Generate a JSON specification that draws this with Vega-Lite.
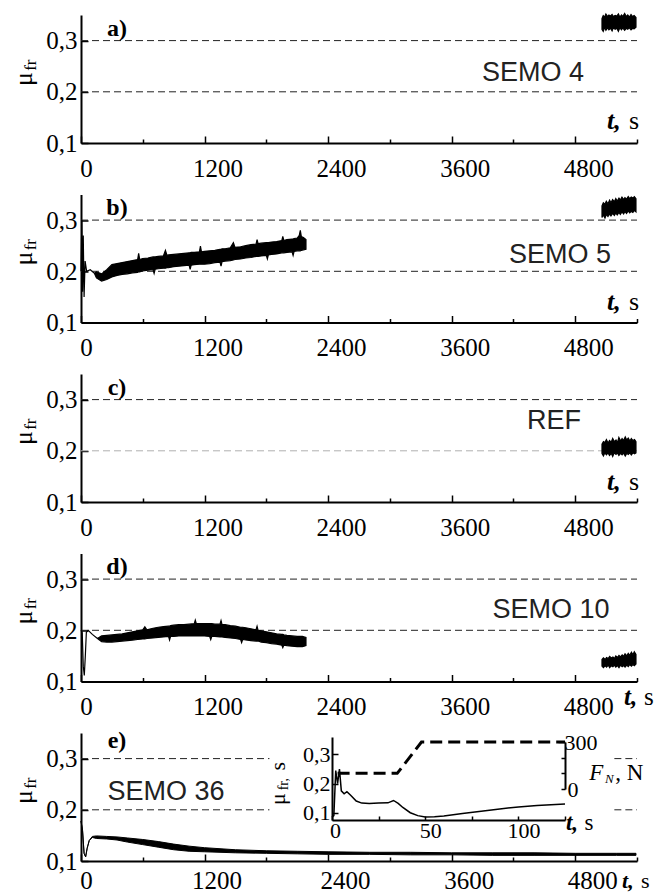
{
"$schema":"https://vega.github.io/schema/vega-lite/v6.json",
"padding":{"left":10,"top":11,"right":0,"bottom":0},
"background":"white",
"bounds":"flush",
"spacing":51.5,
"config":{"view":{"stroke":null},"axis":{"grid":false,"domainColor":"black","domainWidth":2,"tickColor":"black","tickWidth":1.5,"labelColor":"black","labelFont":"Liberation Serif","labelFontSize":25,"title":null,"labelOverlap":false,"labelFlush":false}},
"datasets":{
"curves":[
{"p":"a","seg":2,"t":5060,"lo":0.322,"hi":0.343},{"p":"a","seg":2,"t":5072,"lo":0.318,"hi":0.349},{"p":"a","seg":2,"t":5086,"lo":0.326,"hi":0.346},{"p":"a","seg":2,"t":5098,"lo":0.32,"hi":0.352},{"p":"a","seg":2,"t":5115,"lo":0.325,"hi":0.347},{"p":"a","seg":2,"t":5127,"lo":0.321,"hi":0.35},{"p":"a","seg":2,"t":5143,"lo":0.324,"hi":0.348},{"p":"a","seg":2,"t":5158,"lo":0.319,"hi":0.351},{"p":"a","seg":2,"t":5170,"lo":0.325,"hi":0.347},{"p":"a","seg":2,"t":5188,"lo":0.322,"hi":0.349},{"p":"a","seg":2,"t":5204,"lo":0.324,"hi":0.348},{"p":"a","seg":2,"t":5219,"lo":0.318,"hi":0.352},{"p":"a","seg":2,"t":5233,"lo":0.325,"hi":0.346},{"p":"a","seg":2,"t":5250,"lo":0.321,"hi":0.35},{"p":"a","seg":2,"t":5262,"lo":0.325,"hi":0.347},{"p":"a","seg":2,"t":5280,"lo":0.32,"hi":0.353},{"p":"a","seg":2,"t":5296,"lo":0.324,"hi":0.347},{"p":"a","seg":2,"t":5310,"lo":0.322,"hi":0.35},{"p":"a","seg":2,"t":5326,"lo":0.325,"hi":0.346},{"p":"a","seg":2,"t":5342,"lo":0.321,"hi":0.351},{"p":"a","seg":2,"t":5357,"lo":0.324,"hi":0.347},{"p":"a","seg":2,"t":5372,"lo":0.323,"hi":0.349},{"p":"a","seg":2,"t":5390,"lo":0.326,"hi":0.345},
{"p":"b","seg":1,"t":0,"lo":0.2,"hi":0.2},{"p":"b","seg":1,"t":8,"lo":0.3,"hi":0.3},{"p":"b","seg":1,"t":15,"lo":0.16,"hi":0.16},{"p":"b","seg":1,"t":22,"lo":0.27,"hi":0.27},{"p":"b","seg":1,"t":30,"lo":0.15,"hi":0.15},{"p":"b","seg":1,"t":40,"lo":0.22,"hi":0.22},{"p":"b","seg":1,"t":55,"lo":0.2,"hi":0.2},{"p":"b","seg":1,"t":90,"lo":0.203,"hi":0.203},{"p":"b","seg":1,"t":130,"lo":0.196,"hi":0.196},
{"p":"b","seg":1,"t":150,"lo":0.187,"hi":0.199},{"p":"b","seg":1,"t":200,"lo":0.181,"hi":0.195},{"p":"b","seg":1,"t":250,"lo":0.184,"hi":0.203},{"p":"b","seg":1,"t":300,"lo":0.189,"hi":0.213},{"p":"b","seg":1,"t":350,"lo":0.192,"hi":0.215},{"p":"b","seg":1,"t":400,"lo":0.194,"hi":0.217},{"p":"b","seg":1,"t":450,"lo":0.195,"hi":0.219},{"p":"b","seg":1,"t":500,"lo":0.197,"hi":0.221},{"p":"b","seg":1,"t":550,"lo":0.198,"hi":0.223},{"p":"b","seg":1,"t":560,"lo":0.199,"hi":0.235},{"p":"b","seg":1,"t":570,"lo":0.199,"hi":0.223},{"p":"b","seg":1,"t":600,"lo":0.201,"hi":0.225},{"p":"b","seg":1,"t":650,"lo":0.202,"hi":0.226},{"p":"b","seg":1,"t":700,"lo":0.203,"hi":0.228},{"p":"b","seg":1,"t":710,"lo":0.196,"hi":0.228},{"p":"b","seg":1,"t":720,"lo":0.204,"hi":0.228},{"p":"b","seg":1,"t":750,"lo":0.205,"hi":0.229},{"p":"b","seg":1,"t":800,"lo":0.206,"hi":0.23},{"p":"b","seg":1,"t":820,"lo":0.206,"hi":0.241},{"p":"b","seg":1,"t":835,"lo":0.207,"hi":0.231},{"p":"b","seg":1,"t":850,"lo":0.207,"hi":0.232},{"p":"b","seg":1,"t":900,"lo":0.209,"hi":0.233},{"p":"b","seg":1,"t":950,"lo":0.21,"hi":0.234},{"p":"b","seg":1,"t":1000,"lo":0.211,"hi":0.235},{"p":"b","seg":1,"t":1050,"lo":0.212,"hi":0.236},{"p":"b","seg":1,"t":1060,"lo":0.204,"hi":0.236},{"p":"b","seg":1,"t":1070,"lo":0.212,"hi":0.237},{"p":"b","seg":1,"t":1100,"lo":0.213,"hi":0.237},{"p":"b","seg":1,"t":1150,"lo":0.214,"hi":0.238},{"p":"b","seg":1,"t":1160,"lo":0.214,"hi":0.249},{"p":"b","seg":1,"t":1170,"lo":0.214,"hi":0.238},{"p":"b","seg":1,"t":1200,"lo":0.214,"hi":0.239},{"p":"b","seg":1,"t":1250,"lo":0.215,"hi":0.24},{"p":"b","seg":1,"t":1300,"lo":0.217,"hi":0.241},{"p":"b","seg":1,"t":1350,"lo":0.218,"hi":0.243},{"p":"b","seg":1,"t":1360,"lo":0.21,"hi":0.243},{"p":"b","seg":1,"t":1370,"lo":0.219,"hi":0.244},{"p":"b","seg":1,"t":1400,"lo":0.22,"hi":0.244},{"p":"b","seg":1,"t":1450,"lo":0.221,"hi":0.246},{"p":"b","seg":1,"t":1480,"lo":0.222,"hi":0.256},{"p":"b","seg":1,"t":1495,"lo":0.223,"hi":0.247},{"p":"b","seg":1,"t":1550,"lo":0.224,"hi":0.248},{"p":"b","seg":1,"t":1600,"lo":0.226,"hi":0.25},{"p":"b","seg":1,"t":1650,"lo":0.227,"hi":0.252},{"p":"b","seg":1,"t":1700,"lo":0.229,"hi":0.253},{"p":"b","seg":1,"t":1710,"lo":0.229,"hi":0.262},{"p":"b","seg":1,"t":1720,"lo":0.229,"hi":0.254},{"p":"b","seg":1,"t":1750,"lo":0.23,"hi":0.255},{"p":"b","seg":1,"t":1800,"lo":0.231,"hi":0.256},{"p":"b","seg":1,"t":1810,"lo":0.224,"hi":0.256},{"p":"b","seg":1,"t":1820,"lo":0.232,"hi":0.256},{"p":"b","seg":1,"t":1850,"lo":0.233,"hi":0.257},{"p":"b","seg":1,"t":1900,"lo":0.234,"hi":0.258},{"p":"b","seg":1,"t":1950,"lo":0.236,"hi":0.26},{"p":"b","seg":1,"t":1960,"lo":0.236,"hi":0.268},{"p":"b","seg":1,"t":1970,"lo":0.236,"hi":0.26},{"p":"b","seg":1,"t":2000,"lo":0.237,"hi":0.262},{"p":"b","seg":1,"t":2050,"lo":0.238,"hi":0.263},{"p":"b","seg":1,"t":2060,"lo":0.231,"hi":0.263},{"p":"b","seg":1,"t":2070,"lo":0.239,"hi":0.264},{"p":"b","seg":1,"t":2100,"lo":0.24,"hi":0.265},{"p":"b","seg":1,"t":2120,"lo":0.24,"hi":0.27},{"p":"b","seg":1,"t":2130,"lo":0.24,"hi":0.28},{"p":"b","seg":1,"t":2140,"lo":0.241,"hi":0.268},{"p":"b","seg":1,"t":2160,"lo":0.242,"hi":0.266},{"p":"b","seg":1,"t":2185,"lo":0.243,"hi":0.262},
{"p":"b","seg":2,"t":5060,"lo":0.305,"hi":0.328},{"p":"b","seg":2,"t":5073,"lo":0.31,"hi":0.334},{"p":"b","seg":2,"t":5089,"lo":0.304,"hi":0.331},{"p":"b","seg":2,"t":5102,"lo":0.311,"hi":0.337},{"p":"b","seg":2,"t":5118,"lo":0.307,"hi":0.332},{"p":"b","seg":2,"t":5134,"lo":0.312,"hi":0.339},{"p":"b","seg":2,"t":5147,"lo":0.308,"hi":0.334},{"p":"b","seg":2,"t":5163,"lo":0.313,"hi":0.34},{"p":"b","seg":2,"t":5180,"lo":0.309,"hi":0.336},{"p":"b","seg":2,"t":5194,"lo":0.314,"hi":0.342},{"p":"b","seg":2,"t":5208,"lo":0.31,"hi":0.337},{"p":"b","seg":2,"t":5225,"lo":0.315,"hi":0.343},{"p":"b","seg":2,"t":5238,"lo":0.311,"hi":0.339},{"p":"b","seg":2,"t":5254,"lo":0.316,"hi":0.345},{"p":"b","seg":2,"t":5270,"lo":0.312,"hi":0.34},{"p":"b","seg":2,"t":5283,"lo":0.317,"hi":0.344},{"p":"b","seg":2,"t":5298,"lo":0.313,"hi":0.341},{"p":"b","seg":2,"t":5315,"lo":0.318,"hi":0.346},{"p":"b","seg":2,"t":5329,"lo":0.314,"hi":0.342},{"p":"b","seg":2,"t":5344,"lo":0.317,"hi":0.345},{"p":"b","seg":2,"t":5360,"lo":0.315,"hi":0.343},{"p":"b","seg":2,"t":5374,"lo":0.319,"hi":0.346},{"p":"b","seg":2,"t":5390,"lo":0.316,"hi":0.342},
{"p":"c","seg":2,"t":5060,"lo":0.195,"hi":0.213},{"p":"c","seg":2,"t":5074,"lo":0.19,"hi":0.218},{"p":"c","seg":2,"t":5088,"lo":0.196,"hi":0.216},{"p":"c","seg":2,"t":5103,"lo":0.192,"hi":0.222},{"p":"c","seg":2,"t":5119,"lo":0.196,"hi":0.215},{"p":"c","seg":2,"t":5133,"lo":0.191,"hi":0.22},{"p":"c","seg":2,"t":5150,"lo":0.195,"hi":0.217},{"p":"c","seg":2,"t":5164,"lo":0.189,"hi":0.224},{"p":"c","seg":2,"t":5179,"lo":0.196,"hi":0.218},{"p":"c","seg":2,"t":5196,"lo":0.193,"hi":0.221},{"p":"c","seg":2,"t":5210,"lo":0.196,"hi":0.216},{"p":"c","seg":2,"t":5224,"lo":0.191,"hi":0.226},{"p":"c","seg":2,"t":5241,"lo":0.195,"hi":0.219},{"p":"c","seg":2,"t":5255,"lo":0.192,"hi":0.224},{"p":"c","seg":2,"t":5269,"lo":0.196,"hi":0.22},{"p":"c","seg":2,"t":5286,"lo":0.19,"hi":0.227},{"p":"c","seg":2,"t":5300,"lo":0.195,"hi":0.221},{"p":"c","seg":2,"t":5315,"lo":0.193,"hi":0.225},{"p":"c","seg":2,"t":5331,"lo":0.196,"hi":0.219},{"p":"c","seg":2,"t":5345,"lo":0.192,"hi":0.224},{"p":"c","seg":2,"t":5360,"lo":0.196,"hi":0.22},{"p":"c","seg":2,"t":5376,"lo":0.194,"hi":0.222},{"p":"c","seg":2,"t":5390,"lo":0.196,"hi":0.218},
{"p":"d","seg":1,"t":0,"lo":0.2,"hi":0.2},{"p":"d","seg":1,"t":12,"lo":0.195,"hi":0.195},{"p":"d","seg":1,"t":22,"lo":0.13,"hi":0.13},{"p":"d","seg":1,"t":32,"lo":0.112,"hi":0.112},{"p":"d","seg":1,"t":42,"lo":0.15,"hi":0.15},{"p":"d","seg":1,"t":52,"lo":0.196,"hi":0.196},{"p":"d","seg":1,"t":70,"lo":0.2,"hi":0.2},{"p":"d","seg":1,"t":110,"lo":0.192,"hi":0.192},{"p":"d","seg":1,"t":160,"lo":0.184,"hi":0.184},
{"p":"d","seg":1,"t":200,"lo":0.178,"hi":0.189},{"p":"d","seg":1,"t":250,"lo":0.177,"hi":0.19},{"p":"d","seg":1,"t":300,"lo":0.177,"hi":0.191},{"p":"d","seg":1,"t":350,"lo":0.178,"hi":0.192},{"p":"d","seg":1,"t":400,"lo":0.179,"hi":0.193},{"p":"d","seg":1,"t":450,"lo":0.18,"hi":0.195},{"p":"d","seg":1,"t":500,"lo":0.181,"hi":0.197},{"p":"d","seg":1,"t":550,"lo":0.182,"hi":0.199},{"p":"d","seg":1,"t":600,"lo":0.183,"hi":0.201},{"p":"d","seg":1,"t":620,"lo":0.183,"hi":0.207},{"p":"d","seg":1,"t":640,"lo":0.184,"hi":0.201},{"p":"d","seg":1,"t":700,"lo":0.185,"hi":0.204},{"p":"d","seg":1,"t":750,"lo":0.186,"hi":0.206},{"p":"d","seg":1,"t":800,"lo":0.187,"hi":0.207},{"p":"d","seg":1,"t":850,"lo":0.188,"hi":0.208},{"p":"d","seg":1,"t":860,"lo":0.181,"hi":0.208},{"p":"d","seg":1,"t":870,"lo":0.188,"hi":0.209},{"p":"d","seg":1,"t":900,"lo":0.188,"hi":0.21},{"p":"d","seg":1,"t":950,"lo":0.189,"hi":0.211},{"p":"d","seg":1,"t":1000,"lo":0.189,"hi":0.211},{"p":"d","seg":1,"t":1050,"lo":0.189,"hi":0.212},{"p":"d","seg":1,"t":1100,"lo":0.189,"hi":0.213},{"p":"d","seg":1,"t":1110,"lo":0.189,"hi":0.22},{"p":"d","seg":1,"t":1120,"lo":0.189,"hi":0.213},{"p":"d","seg":1,"t":1150,"lo":0.189,"hi":0.213},{"p":"d","seg":1,"t":1200,"lo":0.189,"hi":0.213},{"p":"d","seg":1,"t":1250,"lo":0.188,"hi":0.213},{"p":"d","seg":1,"t":1260,"lo":0.182,"hi":0.213},{"p":"d","seg":1,"t":1270,"lo":0.188,"hi":0.213},{"p":"d","seg":1,"t":1300,"lo":0.188,"hi":0.212},{"p":"d","seg":1,"t":1350,"lo":0.187,"hi":0.212},{"p":"d","seg":1,"t":1360,"lo":0.187,"hi":0.219},{"p":"d","seg":1,"t":1370,"lo":0.187,"hi":0.211},{"p":"d","seg":1,"t":1400,"lo":0.186,"hi":0.211},{"p":"d","seg":1,"t":1450,"lo":0.185,"hi":0.209},{"p":"d","seg":1,"t":1500,"lo":0.184,"hi":0.208},{"p":"d","seg":1,"t":1550,"lo":0.182,"hi":0.206},{"p":"d","seg":1,"t":1560,"lo":0.176,"hi":0.206},{"p":"d","seg":1,"t":1570,"lo":0.182,"hi":0.206},{"p":"d","seg":1,"t":1600,"lo":0.181,"hi":0.205},{"p":"d","seg":1,"t":1650,"lo":0.18,"hi":0.203},{"p":"d","seg":1,"t":1700,"lo":0.179,"hi":0.201},{"p":"d","seg":1,"t":1710,"lo":0.179,"hi":0.208},{"p":"d","seg":1,"t":1720,"lo":0.179,"hi":0.2},{"p":"d","seg":1,"t":1750,"lo":0.177,"hi":0.199},{"p":"d","seg":1,"t":1800,"lo":0.176,"hi":0.197},{"p":"d","seg":1,"t":1850,"lo":0.174,"hi":0.195},{"p":"d","seg":1,"t":1900,"lo":0.173,"hi":0.193},{"p":"d","seg":1,"t":1950,"lo":0.171,"hi":0.192},{"p":"d","seg":1,"t":1960,"lo":0.166,"hi":0.192},{"p":"d","seg":1,"t":1970,"lo":0.171,"hi":0.191},{"p":"d","seg":1,"t":2000,"lo":0.17,"hi":0.19},{"p":"d","seg":1,"t":2050,"lo":0.169,"hi":0.189},{"p":"d","seg":1,"t":2100,"lo":0.168,"hi":0.188},{"p":"d","seg":1,"t":2150,"lo":0.168,"hi":0.188},{"p":"d","seg":1,"t":2185,"lo":0.17,"hi":0.186},
{"p":"d","seg":2,"t":5060,"lo":0.13,"hi":0.143},{"p":"d","seg":2,"t":5074,"lo":0.127,"hi":0.146},{"p":"d","seg":2,"t":5091,"lo":0.131,"hi":0.143},{"p":"d","seg":2,"t":5104,"lo":0.128,"hi":0.147},{"p":"d","seg":2,"t":5121,"lo":0.132,"hi":0.145},{"p":"d","seg":2,"t":5135,"lo":0.127,"hi":0.149},{"p":"d","seg":2,"t":5149,"lo":0.131,"hi":0.146},{"p":"d","seg":2,"t":5166,"lo":0.129,"hi":0.148},{"p":"d","seg":2,"t":5181,"lo":0.132,"hi":0.145},{"p":"d","seg":2,"t":5194,"lo":0.128,"hi":0.15},{"p":"d","seg":2,"t":5211,"lo":0.131,"hi":0.147},{"p":"d","seg":2,"t":5225,"lo":0.127,"hi":0.151},{"p":"d","seg":2,"t":5239,"lo":0.132,"hi":0.148},{"p":"d","seg":2,"t":5256,"lo":0.129,"hi":0.152},{"p":"d","seg":2,"t":5270,"lo":0.131,"hi":0.149},{"p":"d","seg":2,"t":5284,"lo":0.128,"hi":0.154},{"p":"d","seg":2,"t":5301,"lo":0.132,"hi":0.15},{"p":"d","seg":2,"t":5315,"lo":0.129,"hi":0.155},{"p":"d","seg":2,"t":5329,"lo":0.133,"hi":0.151},{"p":"d","seg":2,"t":5346,"lo":0.13,"hi":0.157},{"p":"d","seg":2,"t":5360,"lo":0.133,"hi":0.152},{"p":"d","seg":2,"t":5374,"lo":0.131,"hi":0.158},{"p":"d","seg":2,"t":5390,"lo":0.134,"hi":0.153},
{"p":"e","seg":1,"t":0,"lo":0.178,"hi":0.178},{"p":"e","seg":1,"t":15,"lo":0.16,"hi":0.16},{"p":"e","seg":1,"t":30,"lo":0.115,"hi":0.115},{"p":"e","seg":1,"t":45,"lo":0.108,"hi":0.108},{"p":"e","seg":1,"t":60,"lo":0.125,"hi":0.125},{"p":"e","seg":1,"t":80,"lo":0.14,"hi":0.14},{"p":"e","seg":1,"t":110,"lo":0.146,"hi":0.148},{"p":"e","seg":1,"t":150,"lo":0.144,"hi":0.149},{"p":"e","seg":1,"t":250,"lo":0.143,"hi":0.148},{"p":"e","seg":1,"t":350,"lo":0.141,"hi":0.147},{"p":"e","seg":1,"t":450,"lo":0.137,"hi":0.145},{"p":"e","seg":1,"t":600,"lo":0.132,"hi":0.142},{"p":"e","seg":1,"t":750,"lo":0.127,"hi":0.138},{"p":"e","seg":1,"t":900,"lo":0.122,"hi":0.133},{"p":"e","seg":1,"t":1050,"lo":0.119,"hi":0.129},{"p":"e","seg":1,"t":1200,"lo":0.118,"hi":0.126},{"p":"e","seg":1,"t":1500,"lo":0.116,"hi":0.122},{"p":"e","seg":1,"t":1800,"lo":0.115,"hi":0.12},{"p":"e","seg":1,"t":2100,"lo":0.114,"hi":0.119},{"p":"e","seg":1,"t":2400,"lo":0.113,"hi":0.118},{"p":"e","seg":1,"t":2800,"lo":0.113,"hi":0.117},{"p":"e","seg":1,"t":3200,"lo":0.112,"hi":0.117},{"p":"e","seg":1,"t":3600,"lo":0.112,"hi":0.116},{"p":"e","seg":1,"t":4000,"lo":0.111,"hi":0.116},{"p":"e","seg":1,"t":4400,"lo":0.111,"hi":0.116},{"p":"e","seg":1,"t":4800,"lo":0.111,"hi":0.115},{"p":"e","seg":1,"t":5200,"lo":0.111,"hi":0.115},{"p":"e","seg":1,"t":5390,"lo":0.111,"hi":0.115}
],
"refs":[
{"p":"a","t0":0,"t1":5400,"mu":0.2},{"p":"a","t0":0,"t1":5400,"mu":0.3},
{"p":"b","t0":0,"t1":5400,"mu":0.2},{"p":"b","t0":0,"t1":5400,"mu":0.3},
{"p":"c","t0":0,"t1":5400,"mu":0.2},{"p":"c","t0":0,"t1":5400,"mu":0.3},
{"p":"d","t0":0,"t1":5400,"mu":0.2},{"p":"d","t0":0,"t1":5400,"mu":0.3},
{"p":"e","t0":0,"t1":1830,"mu":0.2},{"p":"e","t0":0,"t1":1830,"mu":0.3},{"p":"e","t0":5180,"t1":5400,"mu":0.2},{"p":"e","t0":5180,"t1":5400,"mu":0.3}
],
"tags":[{"p":"a","t":350,"mu":0.323,"txt":"a)"},{"p":"b","t":350,"mu":0.323,"txt":"b)"},{"p":"c","t":350,"mu":0.323,"txt":"c)"},{"p":"d","t":350,"mu":0.323,"txt":"d)"},{"p":"e","t":350,"mu":0.335,"txt":"e)"}],
"names":[{"p":"a","t":4390,"mu":0.237,"txt":"SEMO 4"},{"p":"b","t":4652,"mu":0.231,"txt":"SEMO 5"},{"p":"c","t":4594,"mu":0.258,"txt":"REF"},{"p":"d","t":4565,"mu":0.239,"txt":"SEMO 10"},{"p":"e","t":826,"mu":0.235,"txt":"SEMO 36"}],
"tunit":[{"p":"a","tt":5109,"ts":5322,"mu":0.143},{"p":"b","tt":5109,"ts":5322,"mu":0.141},{"p":"c","tt":5109,"ts":5322,"mu":0.139},{"p":"d","tt":5274,"ts":5468,"mu":0.069},{"p":"e","tt":5255,"ts":5440,"mu":0.06}],
"ylab":[{"p":"a","tm":-554,"mm":0.225,"tf":-488,"mf":0.252},{"p":"b","tm":-554,"mm":0.225,"tf":-488,"mf":0.252},{"p":"c","tm":-554,"mm":0.225,"tf":-488,"mf":0.252},{"p":"d","tm":-554,"mm":0.225,"tf":-488,"mf":0.252},{"p":"e","tm":-554,"mm":0.225,"tf":-488,"mf":0.252}],
"inset":[{"t":0,"mu":0.085},{"t":1,"mu":0.09},{"t":2,"mu":0.245},{"t":3,"mu":0.2},{"t":4,"mu":0.25},{"t":5,"mu":0.175},{"t":6.5,"mu":0.165},{"t":8,"mu":0.172},{"t":10,"mu":0.16},{"t":13,"mu":0.14},{"t":16,"mu":0.133},{"t":20,"mu":0.132},{"t":25,"mu":0.133},{"t":30,"mu":0.134},{"t":33,"mu":0.142},{"t":35.5,"mu":0.132},{"t":38,"mu":0.118},{"t":42,"mu":0.1},{"t":46,"mu":0.09},{"t":50,"mu":0.085},{"t":55,"mu":0.086},{"t":60,"mu":0.089},{"t":70,"mu":0.097},{"t":80,"mu":0.105},{"t":90,"mu":0.113},{"t":100,"mu":0.12},{"t":110,"mu":0.125},{"t":125,"mu":0.13}],
"force":[{"t":3,"F":100},{"t":35,"F":100},{"t":48,"F":300},{"t":125,"F":300}]
},
"vconcat":[
{"width":556,"height":128,"layer":[
{"data":{"name":"refs"},"transform":[{"filter":"datum.p=='a'"}],"mark":{"type":"rule","strokeDash":[7,4],"strokeWidth":1,"color":"#222"},"encoding":{"x":{"field":"t0","type":"quantitative","scale":{"domain":[0,5400],"nice":false,"zero":false},"axis":{"orient":"bottom","values":[0,600,1200,1800,2400,3000,3600,4200,4800,5400],"labelExpr":"datum.value % 1200 == 0 ? format(datum.value,'d') : ''","tickSize":{"condition":{"test":"datum.value % 1200 == 0","value":-7},"value":-4},"labelPadding":20,"labelOffset":{"condition":{"test":"datum.value == 0","value":5},"value":13}}},"x2":{"field":"t1"},"y":{"field":"mu","type":"quantitative","scale":{"domain":[0.1,0.35],"nice":false,"zero":false},"axis":{"orient":"left","values":[0.1,0.15,0.2,0.25,0.3,0.35],"labelExpr":"round(datum.value*100) % 10 == 0 ? replace(format(datum.value,'.1f'),'.',',') : ''","tickSize":{"condition":{"test":"round(datum.value*100) % 10 == 0","value":-7},"value":-4},"labelPadding":11}}}},
{"data":{"name":"curves"},"transform":[{"filter":"datum.p=='a'"}],"mark":{"type":"area","color":"black","stroke":"black","strokeWidth":1.2},"encoding":{"x":{"field":"t","type":"quantitative"},"y":{"field":"lo","type":"quantitative","stack":null},"y2":{"field":"hi"},"detail":{"field":"seg"}}},
{"data":{"name":"tags"},"transform":[{"filter":"datum.p=='a'"}],"mark":{"type":"text","font":"Liberation Serif","fontWeight":"bold","fontSize":24,"align":"center","baseline":"middle","color":"black"},"encoding":{"x":{"field":"t","type":"quantitative"},"y":{"field":"mu","type":"quantitative"},"text":{"field":"txt"}}},
{"data":{"name":"names"},"transform":[{"filter":"datum.p=='a'"}],"mark":{"type":"text","font":"Liberation Sans","fontSize":27,"align":"center","baseline":"middle","color":"#222"},"encoding":{"x":{"field":"t","type":"quantitative"},"y":{"field":"mu","type":"quantitative"},"text":{"field":"txt"}}},
{"data":{"name":"tunit"},"transform":[{"filter":"datum.p=='a'"}],"mark":{"type":"text","font":"Liberation Serif","fontStyle":"italic","fontWeight":"bold","fontSize":26,"align":"left","baseline":"middle","color":"black"},"encoding":{"x":{"field":"tt","type":"quantitative"},"y":{"field":"mu","type":"quantitative"},"text":{"value":"t,"}}},
{"data":{"name":"tunit"},"transform":[{"filter":"datum.p=='a'"}],"mark":{"type":"text","font":"Liberation Serif","fontSize":26,"align":"left","baseline":"middle","color":"black"},"encoding":{"x":{"field":"ts","type":"quantitative"},"y":{"field":"mu","type":"quantitative"},"text":{"value":"s"}}},
{"data":{"name":"ylab"},"transform":[{"filter":"datum.p=='a'"}],"mark":{"type":"text","font":"Liberation Serif","fontSize":26,"angle":270,"align":"center","baseline":"middle","color":"black"},"encoding":{"x":{"field":"tm","type":"quantitative"},"y":{"field":"mm","type":"quantitative"},"text":{"value":"μ"}}},
{"data":{"name":"ylab"},"transform":[{"filter":"datum.p=='a'"}],"mark":{"type":"text","font":"Liberation Serif","fontSize":17,"angle":270,"align":"center","baseline":"middle","color":"black"},"encoding":{"x":{"field":"tf","type":"quantitative"},"y":{"field":"mf","type":"quantitative"},"text":{"value":"fr"}}}
]},
{"width":556,"height":128,"layer":[
{"data":{"name":"refs"},"transform":[{"filter":"datum.p=='b'"}],"mark":{"type":"rule","strokeDash":[7,4],"strokeWidth":1,"color":"#222"},"encoding":{"x":{"field":"t0","type":"quantitative","scale":{"domain":[0,5400],"nice":false,"zero":false},"axis":{"orient":"bottom","values":[0,600,1200,1800,2400,3000,3600,4200,4800,5400],"labelExpr":"datum.value % 1200 == 0 ? format(datum.value,'d') : ''","tickSize":{"condition":{"test":"datum.value % 1200 == 0","value":-7},"value":-4},"labelPadding":20,"labelOffset":{"condition":{"test":"datum.value == 0","value":5},"value":13}}},"x2":{"field":"t1"},"y":{"field":"mu","type":"quantitative","scale":{"domain":[0.1,0.35],"nice":false,"zero":false},"axis":{"orient":"left","values":[0.1,0.15,0.2,0.25,0.3,0.35],"labelExpr":"round(datum.value*100) % 10 == 0 ? replace(format(datum.value,'.1f'),'.',',') : ''","tickSize":{"condition":{"test":"round(datum.value*100) % 10 == 0","value":-7},"value":-4},"labelPadding":11}}}},
{"data":{"name":"curves"},"transform":[{"filter":"datum.p=='b'"}],"mark":{"type":"area","color":"black","stroke":"black","strokeWidth":1.2},"encoding":{"x":{"field":"t","type":"quantitative"},"y":{"field":"lo","type":"quantitative","stack":null},"y2":{"field":"hi"},"detail":{"field":"seg"}}},
{"data":{"name":"tags"},"transform":[{"filter":"datum.p=='b'"}],"mark":{"type":"text","font":"Liberation Serif","fontWeight":"bold","fontSize":24,"align":"center","baseline":"middle","color":"black"},"encoding":{"x":{"field":"t","type":"quantitative"},"y":{"field":"mu","type":"quantitative"},"text":{"field":"txt"}}},
{"data":{"name":"names"},"transform":[{"filter":"datum.p=='b'"}],"mark":{"type":"text","font":"Liberation Sans","fontSize":27,"align":"center","baseline":"middle","color":"#222"},"encoding":{"x":{"field":"t","type":"quantitative"},"y":{"field":"mu","type":"quantitative"},"text":{"field":"txt"}}},
{"data":{"name":"tunit"},"transform":[{"filter":"datum.p=='b'"}],"mark":{"type":"text","font":"Liberation Serif","fontStyle":"italic","fontWeight":"bold","fontSize":26,"align":"left","baseline":"middle","color":"black"},"encoding":{"x":{"field":"tt","type":"quantitative"},"y":{"field":"mu","type":"quantitative"},"text":{"value":"t,"}}},
{"data":{"name":"tunit"},"transform":[{"filter":"datum.p=='b'"}],"mark":{"type":"text","font":"Liberation Serif","fontSize":26,"align":"left","baseline":"middle","color":"black"},"encoding":{"x":{"field":"ts","type":"quantitative"},"y":{"field":"mu","type":"quantitative"},"text":{"value":"s"}}},
{"data":{"name":"ylab"},"transform":[{"filter":"datum.p=='b'"}],"mark":{"type":"text","font":"Liberation Serif","fontSize":26,"angle":270,"align":"center","baseline":"middle","color":"black"},"encoding":{"x":{"field":"tm","type":"quantitative"},"y":{"field":"mm","type":"quantitative"},"text":{"value":"μ"}}},
{"data":{"name":"ylab"},"transform":[{"filter":"datum.p=='b'"}],"mark":{"type":"text","font":"Liberation Serif","fontSize":17,"angle":270,"align":"center","baseline":"middle","color":"black"},"encoding":{"x":{"field":"tf","type":"quantitative"},"y":{"field":"mf","type":"quantitative"},"text":{"value":"fr"}}}
]},
{"width":556,"height":128,"layer":[
{"data":{"name":"refs"},"transform":[{"filter":"datum.p=='c' && datum.mu > 0.25"}],"mark":{"type":"rule","strokeDash":[7,4],"strokeWidth":1,"color":"#222"},"encoding":{"x":{"field":"t0","type":"quantitative","scale":{"domain":[0,5400],"nice":false,"zero":false},"axis":{"orient":"bottom","values":[0,600,1200,1800,2400,3000,3600,4200,4800,5400],"labelExpr":"datum.value % 1200 == 0 ? format(datum.value,'d') : ''","tickSize":{"condition":{"test":"datum.value % 1200 == 0","value":-7},"value":-4},"labelPadding":20,"labelOffset":{"condition":{"test":"datum.value == 0","value":5},"value":13}}},"x2":{"field":"t1"},"y":{"field":"mu","type":"quantitative","scale":{"domain":[0.1,0.35],"nice":false,"zero":false},"axis":{"orient":"left","values":[0.1,0.15,0.2,0.25,0.3,0.35],"labelExpr":"round(datum.value*100) % 10 == 0 ? replace(format(datum.value,'.1f'),'.',',') : ''","tickSize":{"condition":{"test":"round(datum.value*100) % 10 == 0","value":-7},"value":-4},"labelPadding":11}}}},
{"data":{"name":"refs"},"transform":[{"filter":"datum.p=='c' && datum.mu < 0.25"}],"mark":{"type":"rule","strokeDash":[7,4],"strokeWidth":1,"color":"#b0b0b0"},"encoding":{"x":{"field":"t0","type":"quantitative"},"x2":{"field":"t1"},"y":{"field":"mu","type":"quantitative"}}},
{"data":{"name":"curves"},"transform":[{"filter":"datum.p=='c'"}],"mark":{"type":"area","color":"black","stroke":"black","strokeWidth":1.2},"encoding":{"x":{"field":"t","type":"quantitative"},"y":{"field":"lo","type":"quantitative","stack":null},"y2":{"field":"hi"},"detail":{"field":"seg"}}},
{"data":{"name":"tags"},"transform":[{"filter":"datum.p=='c'"}],"mark":{"type":"text","font":"Liberation Serif","fontWeight":"bold","fontSize":24,"align":"center","baseline":"middle","color":"black"},"encoding":{"x":{"field":"t","type":"quantitative"},"y":{"field":"mu","type":"quantitative"},"text":{"field":"txt"}}},
{"data":{"name":"names"},"transform":[{"filter":"datum.p=='c'"}],"mark":{"type":"text","font":"Liberation Sans","fontSize":27,"align":"center","baseline":"middle","color":"#222"},"encoding":{"x":{"field":"t","type":"quantitative"},"y":{"field":"mu","type":"quantitative"},"text":{"field":"txt"}}},
{"data":{"name":"tunit"},"transform":[{"filter":"datum.p=='c'"}],"mark":{"type":"text","font":"Liberation Serif","fontStyle":"italic","fontWeight":"bold","fontSize":26,"align":"left","baseline":"middle","color":"black"},"encoding":{"x":{"field":"tt","type":"quantitative"},"y":{"field":"mu","type":"quantitative"},"text":{"value":"t,"}}},
{"data":{"name":"tunit"},"transform":[{"filter":"datum.p=='c'"}],"mark":{"type":"text","font":"Liberation Serif","fontSize":26,"align":"left","baseline":"middle","color":"black"},"encoding":{"x":{"field":"ts","type":"quantitative"},"y":{"field":"mu","type":"quantitative"},"text":{"value":"s"}}},
{"data":{"name":"ylab"},"transform":[{"filter":"datum.p=='c'"}],"mark":{"type":"text","font":"Liberation Serif","fontSize":26,"angle":270,"align":"center","baseline":"middle","color":"black"},"encoding":{"x":{"field":"tm","type":"quantitative"},"y":{"field":"mm","type":"quantitative"},"text":{"value":"μ"}}},
{"data":{"name":"ylab"},"transform":[{"filter":"datum.p=='c'"}],"mark":{"type":"text","font":"Liberation Serif","fontSize":17,"angle":270,"align":"center","baseline":"middle","color":"black"},"encoding":{"x":{"field":"tf","type":"quantitative"},"y":{"field":"mf","type":"quantitative"},"text":{"value":"fr"}}}
]},
{"width":556,"height":128,"layer":[
{"data":{"name":"refs"},"transform":[{"filter":"datum.p=='d'"}],"mark":{"type":"rule","strokeDash":[7,4],"strokeWidth":1,"color":"#222"},"encoding":{"x":{"field":"t0","type":"quantitative","scale":{"domain":[0,5400],"nice":false,"zero":false},"axis":{"orient":"bottom","values":[0,600,1200,1800,2400,3000,3600,4200,4800,5400],"labelExpr":"datum.value % 1200 == 0 ? format(datum.value,'d') : ''","tickSize":{"condition":{"test":"datum.value % 1200 == 0","value":-7},"value":-4},"labelPadding":20,"labelOffset":{"condition":{"test":"datum.value == 0","value":5},"value":13}}},"x2":{"field":"t1"},"y":{"field":"mu","type":"quantitative","scale":{"domain":[0.1,0.35],"nice":false,"zero":false},"axis":{"orient":"left","values":[0.1,0.15,0.2,0.25,0.3,0.35],"labelExpr":"round(datum.value*100) % 10 == 0 ? replace(format(datum.value,'.1f'),'.',',') : ''","tickSize":{"condition":{"test":"round(datum.value*100) % 10 == 0","value":-7},"value":-4},"labelPadding":11}}}},
{"data":{"name":"curves"},"transform":[{"filter":"datum.p=='d'"}],"mark":{"type":"area","color":"black","stroke":"black","strokeWidth":1.2},"encoding":{"x":{"field":"t","type":"quantitative"},"y":{"field":"lo","type":"quantitative","stack":null},"y2":{"field":"hi"},"detail":{"field":"seg"}}},
{"data":{"name":"tags"},"transform":[{"filter":"datum.p=='d'"}],"mark":{"type":"text","font":"Liberation Serif","fontWeight":"bold","fontSize":24,"align":"center","baseline":"middle","color":"black"},"encoding":{"x":{"field":"t","type":"quantitative"},"y":{"field":"mu","type":"quantitative"},"text":{"field":"txt"}}},
{"data":{"name":"names"},"transform":[{"filter":"datum.p=='d'"}],"mark":{"type":"text","font":"Liberation Sans","fontSize":27,"align":"center","baseline":"middle","color":"#222"},"encoding":{"x":{"field":"t","type":"quantitative"},"y":{"field":"mu","type":"quantitative"},"text":{"field":"txt"}}},
{"data":{"name":"tunit"},"transform":[{"filter":"datum.p=='d'"}],"mark":{"type":"text","font":"Liberation Serif","fontStyle":"italic","fontWeight":"bold","fontSize":25,"align":"left","baseline":"middle","color":"black"},"encoding":{"x":{"field":"tt","type":"quantitative"},"y":{"field":"mu","type":"quantitative"},"text":{"value":"t,"}}},
{"data":{"name":"tunit"},"transform":[{"filter":"datum.p=='d'"}],"mark":{"type":"text","font":"Liberation Serif","fontSize":25,"align":"left","baseline":"middle","color":"black"},"encoding":{"x":{"field":"ts","type":"quantitative"},"y":{"field":"mu","type":"quantitative"},"text":{"value":"s"}}},
{"data":{"name":"ylab"},"transform":[{"filter":"datum.p=='d'"}],"mark":{"type":"text","font":"Liberation Serif","fontSize":26,"angle":270,"align":"center","baseline":"middle","color":"black"},"encoding":{"x":{"field":"tm","type":"quantitative"},"y":{"field":"mm","type":"quantitative"},"text":{"value":"μ"}}},
{"data":{"name":"ylab"},"transform":[{"filter":"datum.p=='d'"}],"mark":{"type":"text","font":"Liberation Serif","fontSize":17,"angle":270,"align":"center","baseline":"middle","color":"black"},"encoding":{"x":{"field":"tf","type":"quantitative"},"y":{"field":"mf","type":"quantitative"},"text":{"value":"fr"}}}
]},
{"width":556,"height":128,
"resolve":{"scale":{"x":"independent","y":"independent"}},
"layer":[
{"layer":[
{"data":{"name":"refs"},"transform":[{"filter":"datum.p=='e'"}],"mark":{"type":"rule","strokeDash":[7,4],"strokeWidth":1,"color":"#222"},"encoding":{"x":{"field":"t0","type":"quantitative","scale":{"domain":[0,5400],"nice":false,"zero":false},"axis":{"orient":"bottom","values":[0,600,1200,1800,2400,3000,3600,4200,4800,5400],"labelExpr":"datum.value % 1200 == 0 ? format(datum.value,'d') : ''","tickSize":{"condition":{"test":"datum.value % 1200 == 0","value":-7},"value":-4},"labelPadding":14,"labelOffset":{"condition":[{"test":"datum.value == 0","value":5},{"test":"datum.value == 1200","value":12}],"value":17}}},"x2":{"field":"t1"},"y":{"field":"mu","type":"quantitative","scale":{"domain":[0.1,0.35],"nice":false,"zero":false},"axis":{"orient":"left","values":[0.1,0.15,0.2,0.25,0.3,0.35],"labelExpr":"round(datum.value*100) % 10 == 0 ? replace(format(datum.value,'.1f'),'.',',') : ''","tickSize":{"condition":{"test":"round(datum.value*100) % 10 == 0","value":-7},"value":-4},"labelPadding":11}}}},
{"data":{"name":"curves"},"transform":[{"filter":"datum.p=='e'"}],"mark":{"type":"area","color":"black","stroke":"black","strokeWidth":1},"encoding":{"x":{"field":"t","type":"quantitative"},"y":{"field":"lo","type":"quantitative","stack":null},"y2":{"field":"hi"},"detail":{"field":"seg"}}},
{"data":{"name":"tags"},"transform":[{"filter":"datum.p=='e'"}],"mark":{"type":"text","font":"Liberation Serif","fontWeight":"bold","fontSize":24,"align":"center","baseline":"middle","color":"black"},"encoding":{"x":{"field":"t","type":"quantitative"},"y":{"field":"mu","type":"quantitative"},"text":{"field":"txt"}}},
{"data":{"name":"names"},"transform":[{"filter":"datum.p=='e'"}],"mark":{"type":"text","font":"Liberation Sans","fontSize":27,"align":"center","baseline":"middle","color":"#222"},"encoding":{"x":{"field":"t","type":"quantitative"},"y":{"field":"mu","type":"quantitative"},"text":{"field":"txt"}}},
{"data":{"name":"tunit"},"transform":[{"filter":"datum.p=='e'"}],"mark":{"type":"text","font":"Liberation Serif","fontStyle":"italic","fontWeight":"bold","fontSize":22,"align":"left","baseline":"middle","color":"black"},"encoding":{"x":{"field":"tt","type":"quantitative"},"y":{"field":"mu","type":"quantitative"},"text":{"value":"t,"}}},
{"data":{"name":"tunit"},"transform":[{"filter":"datum.p=='e'"}],"mark":{"type":"text","font":"Liberation Serif","fontSize":22,"align":"left","baseline":"middle","color":"black"},"encoding":{"x":{"field":"ts","type":"quantitative"},"y":{"field":"mu","type":"quantitative"},"text":{"value":"s"}}},
{"data":{"name":"ylab"},"transform":[{"filter":"datum.p=='e'"}],"mark":{"type":"text","font":"Liberation Serif","fontSize":26,"angle":270,"align":"center","baseline":"middle","color":"black"},"encoding":{"x":{"field":"tm","type":"quantitative"},"y":{"field":"mm","type":"quantitative"},"text":{"value":"μ"}}},
{"data":{"name":"ylab"},"transform":[{"filter":"datum.p=='e'"}],"mark":{"type":"text","font":"Liberation Serif","fontSize":17,"angle":270,"align":"center","baseline":"middle","color":"black"},"encoding":{"x":{"field":"tf","type":"quantitative"},"y":{"field":"mf","type":"quantitative"},"text":{"value":"fr"}}}
]},
{"layer":[
{"data":{"name":"inset"},"mark":{"type":"line","color":"black","strokeWidth":1.5},"encoding":{"x":{"field":"t","type":"quantitative","scale":{"domain":[0,125],"range":[251,484],"nice":false,"zero":false},"axis":{"orient":"bottom","offset":-41,"values":[0,25,50,75,100,125],"labelExpr":"datum.value % 50 == 0 ? format(datum.value,'d') : ''","tickSize":-4,"labelPadding":4,"labelFontSize":22,"labelOffset":{"condition":{"test":"datum.value == 0","value":3},"value":5}}},"y":{"field":"mu","type":"quantitative","scale":{"domain":[0.075,0.36],"range":[87,4],"nice":false,"zero":false},"axis":{"orient":"left","offset":-251,"values":[0.1,0.2,0.3],"labelExpr":"replace(format(datum.value,'.1f'),'.',',')","tickSize":-6,"labelPadding":8,"labelFontSize":22}}}},
{"data":{"values":[{"tt":125.5,"ts":135.5,"mu":0.066}]},"mark":{"type":"text","font":"Liberation Serif","fontStyle":"italic","fontWeight":"bold","fontSize":23,"align":"left","baseline":"middle","color":"black"},"encoding":{"x":{"field":"tt","type":"quantitative"},"y":{"field":"mu","type":"quantitative"},"text":{"value":"t,"}}},
{"data":{"values":[{"tt":125.5,"ts":135.5,"mu":0.066}]},"mark":{"type":"text","font":"Liberation Serif","fontSize":23,"align":"left","baseline":"middle","color":"black"},"encoding":{"x":{"field":"ts","type":"quantitative"},"y":{"field":"mu","type":"quantitative"},"text":{"value":"s"}}},
{"data":{"values":[{"tm":-29,"mm":0.147}]},"mark":{"type":"text","font":"Liberation Serif","fontSize":22,"angle":270,"align":"center","baseline":"middle","color":"black"},"encoding":{"x":{"field":"tm","type":"quantitative"},"y":{"field":"mm","type":"quantitative"},"text":{"value":"μ"}}},
{"data":{"values":[{"tf":-26,"mf":0.198}]},"mark":{"type":"text","font":"Liberation Serif","fontSize":14,"angle":270,"align":"center","baseline":"middle","color":"black"},"encoding":{"x":{"field":"tf","type":"quantitative"},"y":{"field":"mf","type":"quantitative"},"text":{"value":"fr,"}}},
{"data":{"values":[{"ts":-29,"ms":0.26}]},"mark":{"type":"text","font":"Liberation Serif","fontSize":22,"angle":270,"align":"center","baseline":"middle","color":"black"},"encoding":{"x":{"field":"ts","type":"quantitative"},"y":{"field":"ms","type":"quantitative"},"text":{"value":"s"}}}
]},
{"layer":[
{"data":{"name":"force"},"mark":{"type":"line","color":"black","strokeWidth":3,"strokeDash":[12,6]},"encoding":{"x":{"field":"t","type":"quantitative","scale":{"domain":[0,125],"range":[251,484],"nice":false,"zero":false},"axis":null},"y":{"field":"F","type":"quantitative","scale":{"domain":[0,300],"range":[56,9],"nice":false,"zero":false},"axis":{"orient":"right","offset":-72,"values":[0,50,100,150,200,250,300],"labelExpr":"datum.value == 0 || datum.value == 300 ? format(datum.value,'d') : ''","tickSize":{"condition":{"test":"datum.value == 300","value":-7},"value":-4},"labelPadding":6,"labelFontSize":22}}}},
{"data":{"values":[{"t":138,"F":100}]},"mark":{"type":"text","font":"Liberation Serif","fontStyle":"italic","fontSize":23,"align":"left","baseline":"middle","color":"black"},"encoding":{"x":{"field":"t","type":"quantitative"},"y":{"field":"F","type":"quantitative"},"text":{"value":"F"}}},
{"data":{"values":[{"t":146.5,"F":62}]},"mark":{"type":"text","font":"Liberation Serif","fontStyle":"italic","fontSize":13,"align":"left","baseline":"middle","color":"black"},"encoding":{"x":{"field":"t","type":"quantitative"},"y":{"field":"F","type":"quantitative"},"text":{"value":"N"}}},
{"data":{"values":[{"t":152,"F":100}]},"mark":{"type":"text","font":"Liberation Serif","fontSize":23,"align":"left","baseline":"middle","color":"black"},"encoding":{"x":{"field":"t","type":"quantitative"},"y":{"field":"F","type":"quantitative"},"text":{"value":", N"}}}
]}
]}
]
}
